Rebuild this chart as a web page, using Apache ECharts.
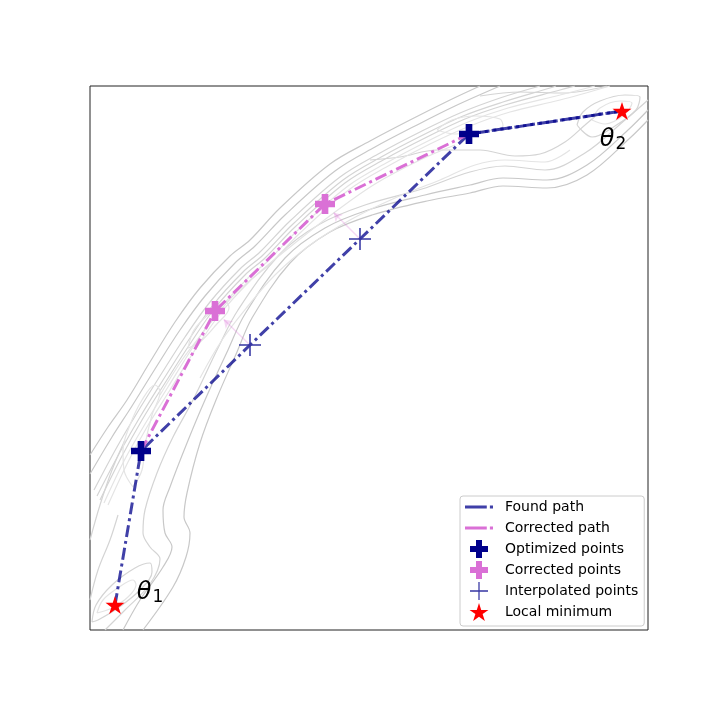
<!DOCTYPE html>
<html>
<head>
<meta charset="utf-8">
<script src="https://cdn.jsdelivr.net/npm/echarts@6/dist/echarts.min.js"></script>
<style>
  html, body { margin: 0; padding: 0; background: #fff; }
  #chart { width: 720px; height: 720px; }
</style>
</head>
<body>
<div id="chart"></div>
<script>
var localMinima = [[115, 605], [622, 111]];
var optimizedPoints = [[141, 451], [469, 134]];
var correctedPoints = [[215, 311], [325, 204]];
var interpolatedPoints = [[250, 345], [360, 239]];
var minimaLabels = ['1', '2'];

// found path: θ1 -> opt -> interp -> interp -> opt -> θ2
var foundPath = [localMinima[0], optimizedPoints[0], interpolatedPoints[0], interpolatedPoints[1], optimizedPoints[1], localMinima[1]];
var lastSegment = [optimizedPoints[1], localMinima[1]];
var correctedPath = [optimizedPoints[0], correctedPoints[0], correctedPoints[1], optimizedPoints[1]];

// contour lines of the loss surface (traced by eye)
var contourOuter = [
  [[90,455],[108,427],[127,400],[150,362],[175,322],[200,288],[230,256],[250,240],[280,208],[330,164],[370,141],[410,120],[450,100],[480,86]],
  [[143,630],[173,587],[186,557],[190,533],[184,517],[187,493],[200,443],[216,400],[237,352],[252,318],[290,263],[330,232],[372,215],[427,201],[470,193],[503,186],[547,188],[587,175],[630,138],[648,120]],
  [[90,474],[112,437],[132,406],[155,369],[180,330],[205,296],[235,263],[255,246],[285,215],[335,171],[375,147],[415,126],[455,106],[500,86]],
  [[123,630],[140,600],[163,567],[172,547],[165,533],[163,510],[170,487],[187,443],[205,400],[228,350],[245,314],[285,258],[325,228],[368,210],[425,195],[470,185],[503,178],[547,180],[587,165],[628,130],[648,110]]
];
var contourMid = [
  [[94,490],[117,447],[137,413],[160,376],[185,337],[210,302],[240,269],[260,252],[290,221],[340,177],[380,153],[420,132],[460,113],[500,98],[540,86]],
  [[97,496],[120,452],[140,417],[163,380],[188,341],[213,305],[243,272],[263,255],[293,224],[343,180],[383,156],[423,135],[463,116],[503,102],[550,88],[556,86]],
  [[100,500],[122,456],[142,420],[165,383],[190,344],[215,308],[245,275],[265,258],[295,227],[345,183],[385,159],[425,138],[465,119],[505,105],[560,90],[575,86]],
  [[105,630],[125,610],[150,584],[160,559],[150,547],[143,533],[145,510],[157,473],[173,437],[193,400],[218,348],[238,310],[280,254],[320,224],[365,205],[422,189],[470,172],[505,166],[545,170],[585,153],[625,120],[648,100]],
  [[90,540],[100,505],[112,470],[125,440]],
  [[90,600],[98,570],[110,540],[118,515]],
  [[92,622],[96,605],[112,585],[135,568],[150,563],[152,572],[140,590],[118,608],[98,620],[92,622]],
  [[577,125],[583,112],[600,101],[625,95],[640,97],[636,110],[615,126],[592,137],[577,125]],
  [[370,160],[400,157],[437,150],[480,150],[515,156],[540,154],[565,142],[585,125],[600,112]],
  [[480,96],[520,92],[563,93],[607,86]]
];
var contourInner = [
  [[104,503],[125,459],[145,424],[168,387],[193,347],[218,311],[248,278],[268,261],[298,230],[348,186],[388,162],[428,141],[468,122],[508,108],[560,95],[595,86]],
  [[108,505],[128,462],[147,427],[170,390],[195,350],[220,314],[250,281],[270,264],[300,233],[350,189],[390,165],[430,144],[470,126],[510,112],[560,100],[610,86]],
  [[200,378],[222,340],[248,306],[275,275],[310,245],[350,220],[395,198],[440,180],[475,165],[505,160],[545,162],[570,150]],
  [[160,395],[182,360],[205,330],[232,297],[262,270],[295,243],[335,212],[375,184],[420,160],[455,145]],
  [[97,613],[103,600],[118,588],[133,580],[136,585],[128,597],[112,608],[97,613]],
  [[133,487],[124,470],[123,450],[130,425],[142,400],[155,385],[160,392],[152,415],[145,445],[142,470],[133,487]],
  [[188,348],[194,330],[210,313],[226,302],[229,308],[216,325],[200,342],[188,348]],
  [[437,130],[452,120],[476,116],[500,119],[503,126],[480,132],[455,134],[437,130]],
  [[592,120],[600,108],[620,101],[632,103],[624,115],[605,124],[592,120]]
];

var plusThick = 'path://M-1,-3L1,-3L1,-1L3,-1L3,1L1,1L1,3L-1,3L-1,1L-3,1L-3,-1L-1,-1Z';
var plusThin = 'path://M-0.07,-1L0.07,-1L0.07,-0.07L1,-0.07L1,0.07L0.07,0.07L0.07,1L-0.07,1L-0.07,0.07L-1,0.07L-1,-0.07L-0.07,-0.07Z';
var star = 'path://M0,-1L0.2245,-0.309L0.951,-0.309L0.363,0.118L0.588,0.809L0,0.382L-0.588,0.809L-0.363,0.118L-0.951,-0.309L-0.2245,-0.309Z';
var dashDotIcon = 'path://M0,0L21,0L21,3L0,3ZM24,0L27,0L27,3L24,3Z';

var foundColor = 'rgba(0,0,139,0.75)';
var orchid = '#da70d6';
var dashDot = [12, 4, 3, 4];

function contourSeries(lines, color) {
  return lines.map(function (pts) {
    return {
      type: 'line', data: pts, showSymbol: false, symbol: 'none', smooth: 0.35,
      silent: true, z: 1, legendHoverLink: false,
      lineStyle: { color: color, width: 1.2 }
    };
  });
}

function towards(a, b, t) {
  return [a[0] + (b[0] - a[0]) * t, a[1] + (b[1] - a[1]) * t];
}

var chart = echarts.init(document.getElementById('chart'));

var series = []
  .concat(contourSeries(contourOuter, '#c8c8c8'))
  .concat(contourSeries(contourMid, '#d4d4d4'))
  .concat(contourSeries(contourInner, '#e4e4e4'))
  .concat([
    {
      name: 'Found path', type: 'line', data: foundPath, symbol: 'none', z: 3,
      color: '#3f3fa8', itemStyle: { color: '#3f3fa8' },
      lineStyle: { color: foundColor, width: 3, type: dashDot }
    },
    {
      type: 'line', data: lastSegment, symbol: 'none', z: 3,
      lineStyle: { color: foundColor, width: 3, type: dashDot }
    },
    {
      name: 'Corrected path', type: 'line', data: correctedPath, symbol: 'none', z: 3,
      color: orchid, itemStyle: { color: orchid },
      lineStyle: { color: orchid, width: 3, type: dashDot }
    },
    {
      type: 'lines', coordinateSystem: 'cartesian2d', z: 4, silent: true,
      symbol: ['none', 'arrow'], symbolSize: 8,
      lineStyle: { color: 'rgba(218,112,214,0.55)', width: 1.5, curveness: 0 },
      data: interpolatedPoints.map(function (p, i) {
        return { coords: [p, towards(p, correctedPoints[i], 0.75)] };
      })
    },
    {
      name: 'Optimized points', type: 'scatter', data: optimizedPoints, z: 5,
      symbol: plusThick, symbolSize: 20, symbolKeepAspect: true,
      itemStyle: { color: '#00008b', opacity: 1 }
    },
    {
      name: 'Corrected points', type: 'scatter', data: correctedPoints, z: 5,
      symbol: plusThick, symbolSize: 20, symbolKeepAspect: true,
      itemStyle: { color: orchid, opacity: 1 }
    },
    {
      name: 'Interpolated points', type: 'scatter', data: interpolatedPoints, z: 5,
      symbol: plusThin, symbolSize: 22, symbolKeepAspect: true,
      itemStyle: { color: '#3636a3', opacity: 1 }
    },
    {
      name: 'Local minimum', type: 'scatter', z: 6,
      symbol: star, symbolSize: 19, symbolKeepAspect: true,
      itemStyle: { color: '#ff0000', opacity: 1 },
      data: localMinima.map(function (p, i) {
        return {
          value: p,
          label: {
            show: true,
            position: 'inside',
            offset: i === 0 ? [35, -12] : [-9, 29],
            formatter: '{t|θ}{s|' + minimaLabels[i] + '}',
            rich: {
              t: { fontFamily: 'DejaVu Sans', fontStyle: 'italic', fontSize: 24, color: '#000' },
              s: { fontFamily: 'DejaVu Sans', fontSize: 17, color: '#000', padding: [10, 0, 0, 1] }
            }
          }
        };
      })
    }
  ]);

chart.setOption({
  animation: false,
  grid: {
    left: 90, top: 86, right: 72, bottom: 90,
    show: true, borderColor: '#222', borderWidth: 1, backgroundColor: '#fff'
  },
  xAxis: { type: 'value', min: 90, max: 648, show: false },
  yAxis: { type: 'value', min: 86, max: 630, inverse: true, show: false },
  legend: {
    orient: 'vertical', left: 460, top: 496,
    padding: [2, 6, 5, 5], itemGap: 3, itemWidth: 28, itemHeight: 18,
    backgroundColor: '#fff', borderColor: '#cccccc', borderWidth: 1, borderRadius: 3,
    textStyle: { fontFamily: 'DejaVu Sans', fontSize: 14, lineHeight: 18, color: '#000', padding: [0, 0, 0, 7] },
    symbolKeepAspect: true,
    data: [
      { name: 'Found path', icon: dashDotIcon },
      { name: 'Corrected path', icon: dashDotIcon },
      { name: 'Optimized points', icon: plusThick },
      { name: 'Corrected points', icon: plusThick },
      { name: 'Interpolated points', icon: plusThin },
      { name: 'Local minimum', icon: star }
    ]
  },
  series: series
});
</script>
</body>
</html>
